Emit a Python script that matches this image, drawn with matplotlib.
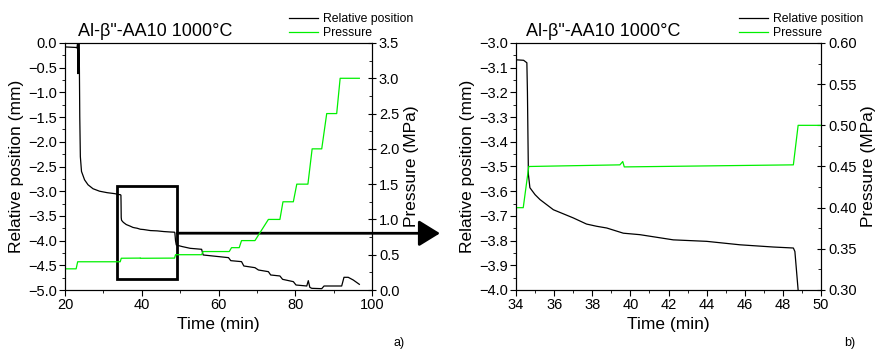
import matplotlib
matplotlib.use('Agg')
import matplotlib.pyplot as plt
from matplotlib.patches import Rectangle
from matplotlib.ticker import MultipleLocator

plt.rcParams['font.family'] = ['Liberation Sans', 'DejaVu Sans']

# relative position of the punch (mm) vs time (min)
pos_time = [20.2, 22.8, 23.1, 23.3, 23.35, 23.4, 23.5, 23.6, 23.75, 23.85, 24.0, 24.3,
            25.1, 26.0, 27.3, 29.0, 31.0, 33.0, 34.0, 34.4, 34.57, 34.6, 34.65, 34.73,
            35.0, 35.26, 35.96, 37.0, 37.7, 38.23, 38.76, 39.63, 40.5, 42.25, 44.0,
            45.75, 47.5, 48.55, 48.63, 48.8, 49.0, 50.5, 52.6, 55.6, 56.0, 62.6, 63.2,
            66.0, 66.6, 69.5, 70.4, 73.0, 73.6, 76.0, 76.7, 79.5, 80.2, 83.0, 83.4,
            83.8, 84.3, 86.9, 87.5, 92.1, 92.7, 93.8, 95.1, 96.7]
position = [-0.08, -0.09, -0.10, 0.0, -0.62, 0.0, -0.60, 0.0, -0.5, -1.5, -2.3, -2.6,
            -2.77, -2.87, -2.95, -3.00, -3.03, -3.05, -3.068, -3.07, -3.08, -3.2, -3.532, -3.586,
            -3.614, -3.634, -3.675, -3.708, -3.733, -3.742, -3.749, -3.77, -3.776, -3.797, -3.803,
            -3.817, -3.826, -3.83, -3.844, -4.0, -4.09, -4.12, -4.156, -4.176, -4.291, -4.345, -4.406,
            -4.426, -4.514, -4.548, -4.595, -4.629, -4.696, -4.716, -4.784, -4.831, -4.899, -4.919, -4.811,
            -4.946, -4.966, -4.973, -4.919, -4.919, -4.743, -4.743, -4.797, -4.885]

# applied pressure (MPa) vs time (min)
p_time = [20.2, 22.9, 23.3, 34.38, 34.67, 39.45, 39.6, 39.68, 48.55, 48.8, 55.6, 56.0,
          62.8, 63.4, 65.4, 66.0, 69.5, 73.0, 76.0, 76.8, 79.5, 80.4, 83.3, 84.4,
          86.9, 88.2, 90.8, 91.7, 96.7]
pressure = [0.30, 0.30, 0.40, 0.40, 0.45, 0.452, 0.456, 0.4495, 0.452, 0.50, 0.50, 0.545,
            0.545, 0.60, 0.60, 0.70, 0.70, 1.00, 1.00, 1.25, 1.25, 1.50, 1.50, 2.00,
            2.00, 2.50, 2.50, 3.00, 3.00]

title = 'Al-β"-AA10 1000°C'
W, H = 877, 349

fig = plt.figure(figsize=(W / 100, H / 100), dpi=100)


def panel(rect, xlim, xmaj, ylim, ymaj, plim, pmaj, leg_x, title_x):
    ax = fig.add_axes(rect)
    axp = ax.twinx()
    l1, = ax.plot(pos_time, position, color='black', lw=0.9)
    l2, = axp.plot(p_time, pressure, color='#00f000', lw=0.9)
    ax.set_xlim(*xlim)
    ax.set_ylim(*ylim)
    axp.set_ylim(*plim)
    ax.xaxis.set_major_locator(MultipleLocator(xmaj))
    ax.xaxis.set_minor_locator(MultipleLocator(xmaj / 2))
    ax.yaxis.set_major_locator(MultipleLocator(ymaj))
    ax.yaxis.set_minor_locator(MultipleLocator(ymaj / 2))
    axp.yaxis.set_major_locator(MultipleLocator(pmaj))
    axp.yaxis.set_minor_locator(MultipleLocator(pmaj / 2))
    ax.tick_params(which='major', direction='out', length=4, labelsize=10.5, pad=2)
    ax.tick_params(which='minor', direction='out', length=2.5)
    axp.tick_params(which='major', direction='inout', length=6, labelsize=10.5, pad=2)
    axp.tick_params(which='minor', direction='in', length=2.5)
    ax.set_xlabel('Time (min)', fontsize=12.5, labelpad=3)
    ax.set_ylabel('Relative position (mm)', fontsize=12.5, labelpad=3)
    axp.set_ylabel('Pressure (MPa)', fontsize=12.5, labelpad=3)
    ax.text(title_x, 1.028, title, transform=ax.transAxes, fontsize=13, va='baseline')
    fig.legend([l1, l2], ['Relative position', 'Pressure'], loc='upper left',
               bbox_to_anchor=(leg_x / W, 1 - 13 / H), frameon=False, fontsize=8.8,
               handlelength=2.4, handletextpad=0.35, labelspacing=0.2,
               borderpad=0, borderaxespad=0)
    return ax, axp


ax1, ax1p = panel([65 / W, 59 / H, 307 / W, 247 / H], (20, 100), 20, (-5, 0), 0.5,
                  (0, 3.5), 0.5, 289, 0.042)
ax2, ax2p = panel([516 / W, 59 / H, 305 / W, 247 / H], (34, 50), 2, (-4, -3), 0.1,
                  (0.3, 0.6), 0.05, 739, 0.033)

# zoom box and arrow towards panel b)
ax1.add_patch(Rectangle((33.45, -4.78), 49.3 - 33.45, 4.78 - 2.89, fill=False,
                        lw=2, edgecolor='black', zorder=5))
ax1.annotate('', xy=(440 / W, 1 - 233.3 / H), xycoords='figure fraction',
             xytext=(49.3, -3.85), textcoords='data', annotation_clip=False,
             arrowprops=dict(arrowstyle='-|>,head_length=1.3,head_width=0.8',
                             lw=2, color='black', shrinkA=0, shrinkB=0,
                             mutation_scale=10), zorder=6)

fig.text(399 / W, 1 - 343 / H, 'a)', fontsize=9, ha='center', va='center')
fig.text(850 / W, 1 - 343 / H, 'b)', fontsize=9, ha='center', va='center')

fig.savefig('out.png', dpi=100)
